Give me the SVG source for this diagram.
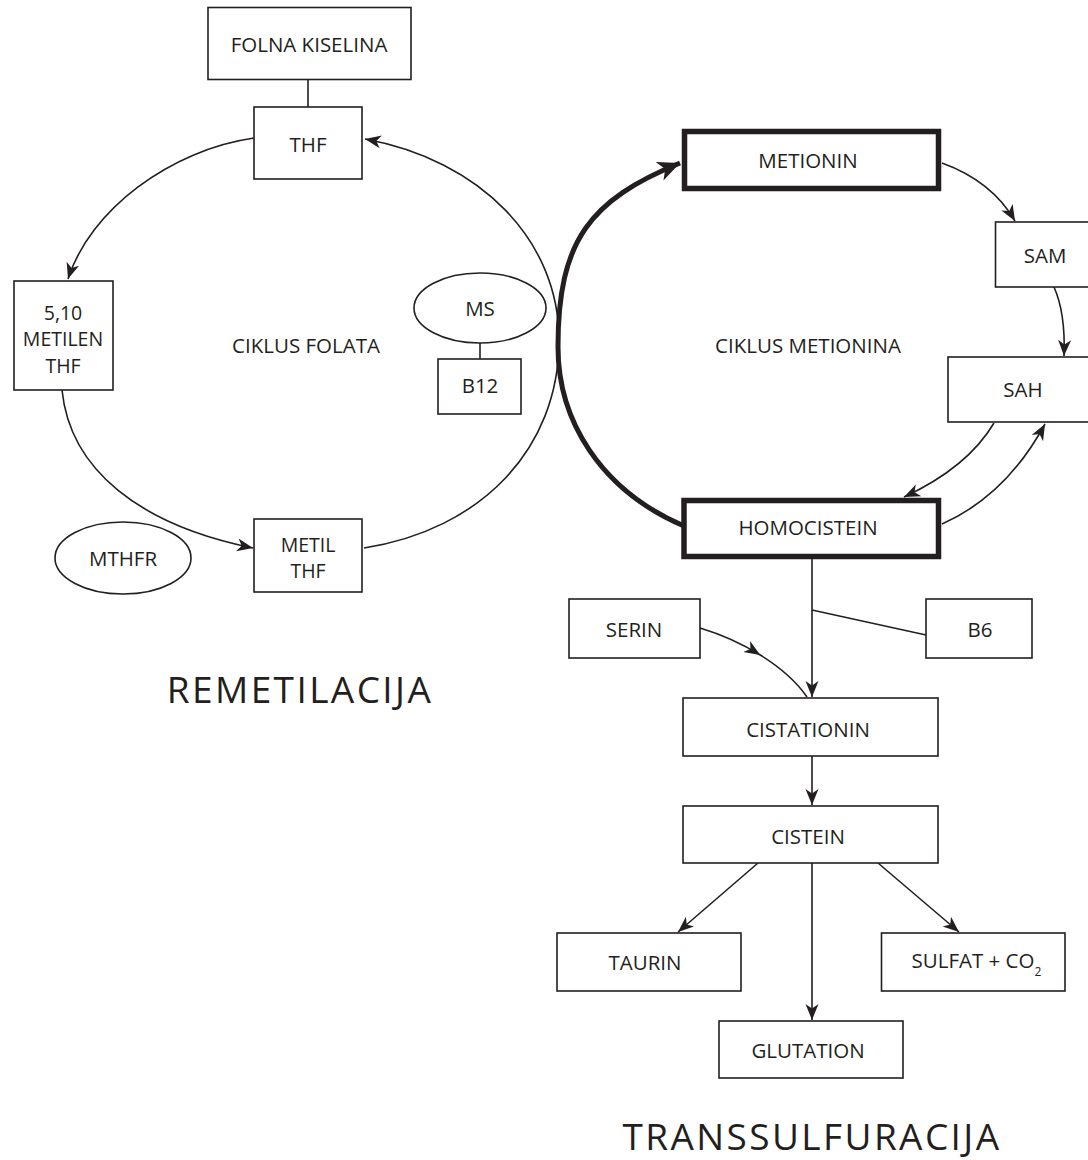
<svg xmlns="http://www.w3.org/2000/svg" width="1088" height="1160" viewBox="0 0 1088 1160">
<style>
.box{fill:#fff;stroke:#231f20;stroke-width:1.6}
.thick{fill:#fff;stroke:#231f20;stroke-width:5.5}
.ell{fill:#fff;stroke:#231f20;stroke-width:1.6}
.lbl{font-family:"Open Sans","Liberation Sans",sans-serif;font-size:20.5px;fill:#231f20;text-anchor:middle}
.ml{font-size:19.5px}
.big{font-family:"Open Sans","Liberation Sans",sans-serif;font-size:37px;fill:#231f20;text-anchor:middle;letter-spacing:2.4px}
.con{fill:none;stroke:#231f20;stroke-width:1.6}
.arr{marker-end:url(#ah)}
</style>
<defs>
<marker id="ah" markerUnits="userSpaceOnUse" markerWidth="18" markerHeight="16" refX="16" refY="7" orient="auto" viewBox="0 0 18 16">
<path d="M0,0.5 L16,7 L0,13.5 L4.5,7 z" fill="#231f20"/>
</marker>
<marker id="ahb" markerUnits="userSpaceOnUse" markerWidth="26" markerHeight="22" refX="22" refY="10" orient="auto" viewBox="0 0 26 22">
<path d="M0,0 L22,10 L0,20 L6,10 z" fill="#231f20"/>
</marker>
</defs>
<rect width="1088" height="1160" fill="#fff"/>

<g id="connectors">
<path class="con" d="M308,80 V107"/>
<path class="con arr" d="M254,138 C170,150 90,210 68,279"/>
<path class="con arr" d="M62,390 C70,470 140,525 253,548"/>
<path class="con arr" d="M364,548 C480,530 559,450 559,340 C559,240 480,160 365,139"/>
<path class="con" d="M480,343 V359"/>
<path fill="none" stroke="#231f20" stroke-width="5" marker-end="url(#ahb)" d="M684,526 C600,490 558,420 558,347 C558,240 590,200 680,163"/>
<path class="con arr" d="M942,163 C975,175 1000,195 1015,221"/>
<path class="con arr" d="M1054,287 C1062,305 1065,330 1064,356"/>
<path class="con arr" d="M994,423 C975,455 945,478 904,497"/>
<path class="con arr" d="M942,524 C985,505 1020,470 1045,424"/>
<path class="con arr" d="M812,559 V697"/>
<path class="con" d="M812,610 L926,635"/>
<path class="con" d="M700,628 C720,634 741.25,643.25 760.25,655 C779.25,666.75 796,681 807,697" marker-mid="url(#ah)"/>
<path class="con arr" d="M812,756 V805"/>
<path class="con arr" d="M758,863 L678,932"/>
<path class="con arr" d="M812,863 V1020"/>
<path class="con arr" d="M878,863 L959,932"/>
</g>

<g id="folna"><rect class="box" x="208" y="7.5" width="203" height="72"/><text class="lbl" x="309" y="52">FOLNA KISELINA</text></g>
<g id="thf"><rect class="box" x="254" y="107" width="108" height="72"/><text class="lbl" x="308" y="152">THF</text></g>
<g id="metilen"><rect class="box" x="14" y="281" width="99" height="109"/><text class="lbl ml" x="63" y="319.5">5,10<tspan x="63" dy="26.6">METILEN</tspan><tspan x="63" dy="26.6">THF</tspan></text></g>
<g id="ciklus-folata"><text class="lbl" x="306" y="353">CIKLUS FOLATA</text></g>
<g id="ms"><ellipse class="ell" cx="480" cy="308" rx="66" ry="35"/><text class="lbl" x="480" y="316">MS</text></g>
<g id="b12"><rect class="box" x="438" y="359" width="83" height="55"/><text class="lbl" x="480" y="393">B12</text></g>
<g id="metilthf"><rect class="box" x="254" y="519" width="108" height="73"/><text class="lbl ml" x="308" y="551.5">METIL<tspan x="308" dy="26.6">THF</tspan></text></g>
<g id="mthfr"><ellipse class="ell" cx="123" cy="558" rx="68" ry="36"/><text class="lbl" x="123" y="566">MTHFR</text></g>
<g id="remetilacija"><text class="big" x="300" y="703">REMETILACIJA</text></g>

<g id="metionin"><rect class="thick" x="684.5" y="131.5" width="254" height="57"/><text class="lbl" x="808" y="168">METIONIN</text></g>
<g id="sam"><rect class="box" x="995.5" y="222" width="100" height="65"/><text class="lbl" x="1045" y="263">SAM</text></g>
<g id="ciklus-metionina"><text class="lbl" x="808" y="353">CIKLUS METIONINA</text></g>
<g id="sah"><rect class="box" x="948" y="357" width="150" height="65"/><text class="lbl" x="1023" y="397">SAH</text></g>
<g id="homocistein"><rect class="thick" x="684" y="500.5" width="254.5" height="56"/><text class="lbl" x="808" y="535">HOMOCISTEIN</text></g>
<g id="serin"><rect class="box" x="569" y="599" width="131" height="59"/><text class="lbl" x="634" y="637">SERIN</text></g>
<g id="b6"><rect class="box" x="926" y="599" width="106" height="59"/><text class="lbl" x="980" y="637">B6</text></g>
<g id="cistationin"><rect class="box" x="683" y="698" width="255" height="58"/><text class="lbl" x="808" y="737">CISTATIONIN</text></g>
<g id="cistein"><rect class="box" x="683" y="806" width="255" height="57"/><text class="lbl" x="808" y="844">CISTEIN</text></g>
<g id="taurin"><rect class="box" x="557" y="933" width="184" height="58"/><text class="lbl" x="645" y="970">TAURIN</text></g>
<g id="sulfat"><rect class="box" x="881.5" y="933" width="183.5" height="58"/><text class="lbl" x="911.5" y="968" style="text-anchor:start">SULFAT + CO<tspan font-size="12" dy="8">2</tspan></text></g>
<g id="glutation"><rect class="box" x="719" y="1021" width="184" height="57"/><text class="lbl" x="808" y="1058">GLUTATION</text></g>
<g id="transsulfuracija"><text class="big" x="812" y="1150">TRANSSULFURACIJA</text></g>
</svg>
